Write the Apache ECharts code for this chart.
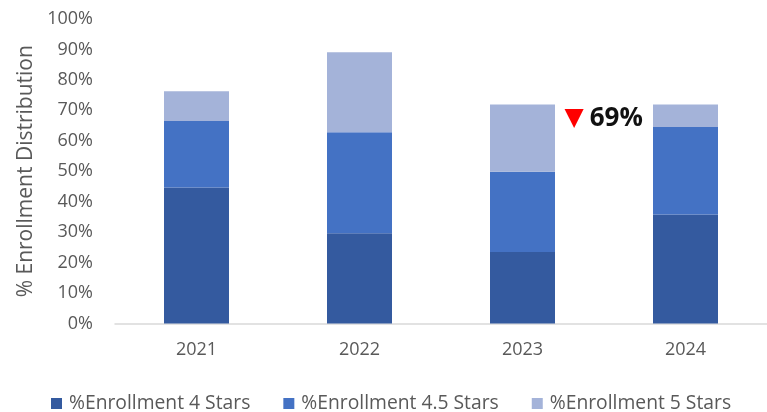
<!DOCTYPE html>
<html>
<head>
<meta charset="utf-8">
<script src="https://cdn.jsdelivr.net/npm/echarts@6/dist/echarts.min.js"></script>
<style>
  html, body { margin: 0; padding: 0; background: #fff; }
  #chart { width: 767px; height: 412px; }
</style>
</head>
<body>
<div id="chart"></div>
<script>
// Enrollment share by star rating, per year (percent)
const years = ['2021', '2022', '2023', '2024'];
const enroll4 = [44.7, 29.6, 23.5, 35.8];
const enroll45 = [21.8, 33.2, 26.3, 28.7];
const enroll5 = [9.8, 26.3, 22.1, 7.4];
const seriesNames = ['%Enrollment 4 Stars', '%Enrollment 4.5 Stars', '%Enrollment 5 Stars'];
const callout = { year: '2023', text: '69%' };

const colors = ['#345A9F', '#4472C4', '#A4B3D9'];
const font = '"Open Sans", "DejaVu Sans", sans-serif';

const chart = echarts.init(document.getElementById('chart'));

function bar(name, data, color) {
  return {
    name: name,
    type: 'bar',
    stack: 'total',
    barWidth: 65,
    data: data,
    itemStyle: { color: color },
    emphasis: { disabled: true }
  };
}

chart.setOption({
  animation: false,
  color: colors,
  grid: { left: 115, right: -4, top: 19, bottom: 88.5 },
  xAxis: {
    type: 'category',
    data: years,
    axisLine: { lineStyle: { color: '#D9D9D9', width: 1.5 } },
    axisTick: { show: false },
    axisLabel: { color: '#595959', fontSize: 18, fontFamily: font, margin: 17 }
  },
  yAxis: {
    type: 'value',
    min: 0,
    max: 100,
    interval: 10,
    name: '% Enrollment Distribution',
    nameLocation: 'middle',
    nameGap: 78,
    nameTextStyle: { color: '#595959', fontSize: 21, fontFamily: font },
    axisLine: { show: false },
    axisTick: { show: false },
    splitLine: { show: false },
    axisLabel: {
      color: '#595959', fontSize: 18, fontFamily: font, margin: 22,
      formatter: v => v + '%'
    }
  },
  legend: {
    left: 46,
    top: 389,
    itemWidth: 11,
    itemHeight: 11,
    itemGap: 33,
    icon: 'rect',
    textStyle: { color: '#595959', fontSize: 19.3, fontFamily: font, padding: [0, 0, 0, 2] },
    data: seriesNames
  },
  series: [
    bar(seriesNames[0], enroll4, colors[0]),
    bar(seriesNames[1], enroll45, colors[1]),
    bar(seriesNames[2], enroll5, colors[2])
  ]
});

// Callout beside the top of the highlighted year's stack
const calloutIdx = years.indexOf(callout.year);
const stackTop = enroll4[calloutIdx] + enroll45[calloutIdx] + enroll5[calloutIdx];
const pt = chart.convertToPixel({ gridIndex: 0 }, [callout.year, stackTop]);
chart.setOption({
  graphic: [{
    type: 'text',
    left: pt[0] + 42,
    top: pt[1] + 1,
    style: {
      text: '{a|▼}{b|' + callout.text + '}',
      rich: {
        a: { fill: '#FF0000', fontSize: 25, fontFamily: '"DejaVu Sans", sans-serif', padding: [0, 6, 0, 0] },
        b: { fill: '#111111', fontSize: 26, fontWeight: 'bold', fontFamily: font }
      }
    }
  }]
});
</script>
</body>
</html>
